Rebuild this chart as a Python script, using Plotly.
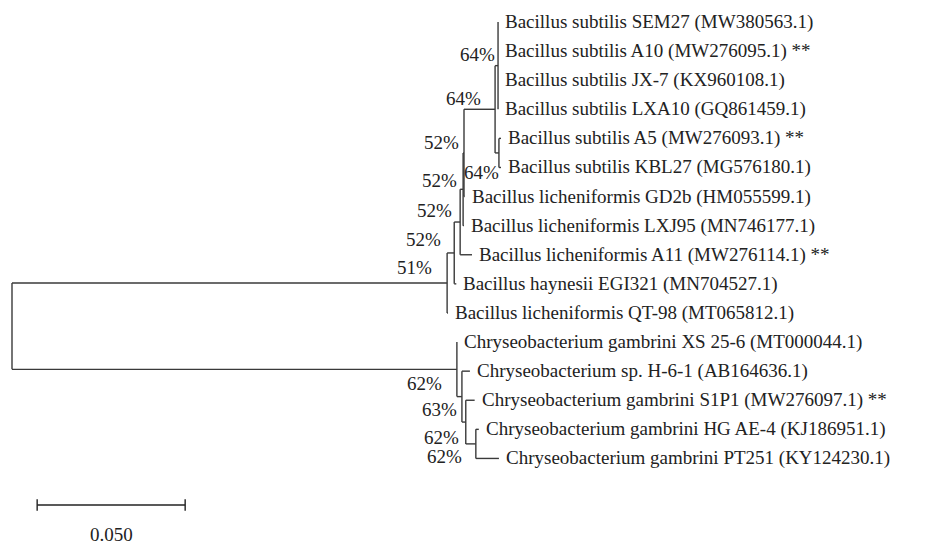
import plotly.graph_objects as go

# ---------------- data ----------------
leaf_names = [
    "Bacillus subtilis SEM27 (MW380563.1)",
    "Bacillus subtilis A10 (MW276095.1) **",
    "Bacillus subtilis JX-7 (KX960108.1)",
    "Bacillus subtilis LXA10 (GQ861459.1)",
    "Bacillus subtilis A5 (MW276093.1) **",
    "Bacillus subtilis KBL27 (MG576180.1)",
    "Bacillus licheniformis GD2b (HM055599.1)",
    "Bacillus licheniformis LXJ95 (MN746177.1)",
    "Bacillus licheniformis A11 (MW276114.1) **",
    "Bacillus haynesii EGI321 (MN704527.1)",
    "Bacillus licheniformis QT-98 (MT065812.1)",
    "Chryseobacterium gambrini XS 25-6 (MT000044.1)",
    "Chryseobacterium sp. H-6-1 (AB164636.1)",
    "Chryseobacterium gambrini S1P1 (MW276097.1) **",
    "Chryseobacterium gambrini HG AE-4 (KJ186951.1)",
    "Chryseobacterium gambrini PT251 (KY124230.1)",
]
leaf_ids = ["SEM27", "A10", "JX7", "LXA10", "A5", "KBL27", "GD2b", "LXJ95",
            "A11", "EGI321", "QT98", "XS256", "H61", "S1P1", "HGAE4", "PT251"]

# node id -> parent id
node_parent = {
    "N51": "root", "C": "root",
    "N52a": "N51", "QT98": "N51",
    "N52b": "N52a", "EGI321": "N52a",
    "N52c": "N52b", "A11": "N52b",
    "N52d": "N52c", "LXJ95": "N52c",
    "S": "N52d", "GD2b": "N52d",
    "T": "S", "U": "S",
    "SEM27": "T", "A10": "T", "JX7": "T", "LXA10": "T",
    "A5": "U", "KBL27": "U",
    "XS256": "C", "C2": "C",
    "H61": "C2", "C3": "C2",
    "S1P1": "C3", "C4": "C3",
    "HGAE4": "C4", "PT251": "C4",
}
# branch lengths (substitutions per site)
branch_length = {
    "N51": 0.1470, "C": 0.1503,
    "N52a": 0.0024, "QT98": 0.0003,
    "N52b": 0.0020, "EGI321": 0.0007,
    "N52c": 0.0010, "A11": 0.0040,
    "N52d": 0.0003, "LXJ95": 0.0003,
    "S": 0.0105, "GD2b": 0.0002,
    "T": 0.0010, "U": 0.0013,
    "SEM27": 0.0, "A10": 0.0, "JX7": 0.0, "LXA10": 0.0,
    "A5": 0.0007, "KBL27": 0.0007,
    "XS256": 0.0, "C2": 0.0017,
    "H61": 0.0027, "C3": 0.0013,
    "S1P1": 0.0030, "C4": 0.0034,
    "HGAE4": 0.0010, "PT251": 0.0078,
}
# bootstrap support (%)
bootstrap = {
    "N51": 51, "N52a": 52, "N52b": 52, "N52c": 52, "N52d": 52,
    "S": 64, "T": 64, "U": 64,
    "C": 62, "C2": 63, "C3": 62, "C4": 62,
}
scale_bar_length = 0.050
scale_bar_label = "0.050"

# ---------------- styling ----------------
LINE = "#3a3a3a"
TEXT = "#222"
FONT = "Liberation Serif"
FS = 19
# label offsets in pixels (dx, dy; dy positive = up)
label_offset = {
    "N51": (-13, 15), "N52a": (-11, 13), "N52b": (-6, 12), "N52c": (-4, 9),
    "N52d": (-3, 10), "S": (-12, 11), "T": (-1, 11), "U": (2, -20),
    "C": (-13, -14), "C2": (-3, -13), "C3": (-5, -15), "C4": (-12, -13),
}

# ---------------- layout computation ----------------
children = {}
for n, p in node_parent.items():
    children.setdefault(p, []).append(n)

xpos = {"root": 0.0}
ypos = {}
for i, lid in enumerate(leaf_ids):
    ypos[lid] = float(i)


def compute_x(n):
    for c in children.get(n, []):
        xpos[c] = xpos[n] + branch_length[c]
        compute_x(c)


def compute_y(n):
    if n in ypos:
        return ypos[n]
    ys = [compute_y(c) for c in children[n]]
    ypos[n] = (min(ys) + max(ys)) / 2
    return ypos[n]


compute_x("root")
compute_y("root")

xs, ys = [], []
for n, kids in children.items():
    kys = [ypos[c] for c in kids]
    xs += [xpos[n], xpos[n], None]
    ys += [min(kys), max(kys), None]
    for c in kids:
        xs += [xpos[n], xpos[c], None]
        ys += [ypos[c], ypos[c], None]

fig = go.Figure()
fig.add_trace(go.Scatter(x=xs, y=ys, mode="lines",
                         line=dict(color=LINE, width=1.4),
                         hoverinfo="skip", showlegend=False))

annotations = []
for lid, name in zip(leaf_ids, leaf_names):
    annotations.append(dict(x=xpos[lid], y=ypos[lid], text=name, showarrow=False,
                            xanchor="left", yanchor="middle", xshift=5,
                            font=dict(family=FONT, size=FS, color=TEXT)))
for n, b in bootstrap.items():
    dx, dy = label_offset[n]
    annotations.append(dict(x=xpos[n], y=ypos[n], text=f"{b}%", showarrow=False,
                            xanchor="right", yanchor="middle", xshift=dx, yshift=dy,
                            font=dict(family=FONT, size=FS, color=TEXT)))

# scale bar
sb_x0 = 0.0085
sb_y = 16.6
fig.add_trace(go.Scatter(
    x=[sb_x0, sb_x0 + scale_bar_length, None, sb_x0, sb_x0, None,
       sb_x0 + scale_bar_length, sb_x0 + scale_bar_length],
    y=[sb_y, sb_y, None, sb_y - 0.2, sb_y + 0.2, None, sb_y - 0.2, sb_y + 0.2],
    mode="lines", line=dict(color="#222", width=1.4),
    hoverinfo="skip", showlegend=False))
annotations.append(dict(x=sb_x0 + scale_bar_length / 2, y=17.62, text=scale_bar_label,
                        showarrow=False, xanchor="center", yanchor="middle",
                        font=dict(family=FONT, size=FS, color=TEXT)))

fig.update_layout(
    width=936, height=545,
    margin=dict(l=0, r=0, t=0, b=0),
    paper_bgcolor="white", plot_bgcolor="white",
    xaxis=dict(range=[-0.00135, 0.31486], visible=False, fixedrange=True),
    yaxis=dict(range=[18.25, -0.481], visible=False, fixedrange=True),
    annotations=annotations,
)
fig.write_html("out.html")
